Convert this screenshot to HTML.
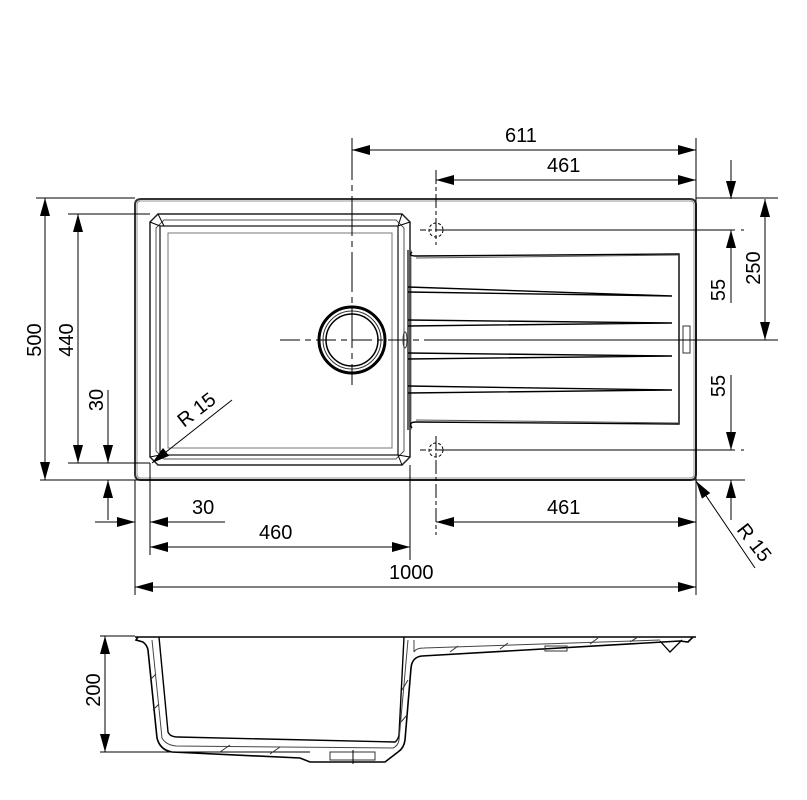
<!DOCTYPE html>
<html><head><meta charset="utf-8"><style>
html,body{margin:0;padding:0;background:#fff;}
svg{display:block;}
text{font-family:"Liberation Sans",Arial,sans-serif;font-size:20px;fill:#000;}
</style></head><body>
<svg width="807" height="800" viewBox="0 0 807 800" xmlns="http://www.w3.org/2000/svg">
<defs>
<marker id="a" viewBox="0 0 18 10" refX="18" refY="5" markerWidth="18" markerHeight="10" markerUnits="userSpaceOnUse" orient="auto-start-reverse">
<path d="M0,0 L18,5 L0,10 Z" fill="#000"/></marker>
</defs>
<g fill="none" stroke="#000" stroke-width="1">
<path d="M141,199 H690 Q696,199 696,205 V474 Q696,480 690,480 H141 Q135,480 135,474 V205 Q135,199 141,199 Z" stroke="#333" stroke-width="2"/>
<path d="M141,201 H690 Q694,201 694,205 V474 Q694,478 690,478 H141 Q137,478 137,474 V205 Q137,201 141,201 Z" stroke="#999"/>
<path d="M158,214 H402 L410,222 V457 L402,465 H158 L150,457 V222 Z" stroke="#222" stroke-width="1.5"/>
<path d="M164,220 H396 L404,228 V451 L396,459 H164 L156,451 V228 Z" stroke="#555"/>
<rect x="160" y="226" width="238" height="229" stroke="#111" stroke-width="1.2"/>
<rect x="168" y="233" width="224" height="215" stroke="#777"/>
<line x1="150" y1="222" x2="160" y2="226"/><line x1="158" y1="214" x2="164" y2="226"/>
<line x1="402" y1="214" x2="398" y2="226"/><line x1="410" y1="222" x2="398" y2="226"/>
<line x1="150" y1="457" x2="160" y2="455"/><line x1="402" y1="465" x2="398" y2="455"/><line x1="410" y1="457" x2="398" y2="455"/>
<circle cx="352" cy="340" r="33" stroke-width="3"/>
<circle cx="352" cy="340" r="29" stroke="#333"/>
<circle cx="352" cy="340" r="26" stroke-width="1.5"/>
<line x1="352" y1="140" x2="352" y2="385" stroke-dasharray="40,5,6,5"/>
<line x1="280" y1="340" x2="430" y2="340" stroke-dasharray="20,5,6,5"/>
<line x1="408" y1="250" x2="408" y2="430" stroke="#333" stroke-width="1.5"/>
<line x1="411" y1="250" x2="411" y2="430" stroke="#777"/>
<path d="M412,252 Q408,256 416,256 L679,254 V424 L416,422 Q408,422 412,428" stroke-width="1.4"/>
<path d="M416,258 L679,255" stroke="#555"/><path d="M416,420 L679,423" stroke="#555"/>
<path d="M408,287 L672,296 L408,292" stroke-width="1.4"/>
<path d="M408,320 L672,323 L408,326" stroke-width="1.4"/>
<path d="M408,353 L672,356 L408,359" stroke-width="1.4"/>
<path d="M408,386 L672,390 L408,393" stroke-width="1.4"/>
<rect x="683" y="326" width="7" height="27" stroke="#333"/>
<ellipse cx="405" cy="340" rx="2" ry="8" stroke="#333"/>
<circle cx="436" cy="230" r="7" stroke-dasharray="3,2"/>
<circle cx="436" cy="450" r="7" stroke-dasharray="3,2"/>
<line x1="436" y1="170" x2="436" y2="245" stroke-dasharray="14,3,4,3"/>
<line x1="420" y1="230" x2="745" y2="230" stroke-dasharray="6,3,3,3,300"/>
<line x1="436" y1="436" x2="436" y2="535" stroke-dasharray="14,3,4,3"/>
<line x1="420" y1="450" x2="745" y2="450" stroke-dasharray="6,3,3,3,300"/>
<line x1="352" y1="138" x2="352" y2="148"/>
<line x1="696" y1="138" x2="696" y2="595"/>
<line x1="696" y1="198" x2="778" y2="198"/>
<line x1="430" y1="340" x2="778" y2="340"/>
<line x1="40" y1="480" x2="745" y2="480"/>
<line x1="36" y1="198" x2="135" y2="198"/>
<line x1="68" y1="214" x2="150" y2="214"/>
<line x1="68" y1="463" x2="150" y2="463"/>
<line x1="135" y1="480" x2="135" y2="595"/>
<line x1="150" y1="463" x2="150" y2="555"/>
<line x1="410" y1="465" x2="410" y2="560"/>
<line x1="352" y1="150" x2="696" y2="150" marker-start="url(#a)" marker-end="url(#a)"/>
<line x1="436" y1="180" x2="696" y2="180" marker-start="url(#a)" marker-end="url(#a)"/>
<line x1="45" y1="198" x2="45" y2="480" marker-start="url(#a)" marker-end="url(#a)"/>
<line x1="78" y1="214" x2="78" y2="463" marker-start="url(#a)" marker-end="url(#a)"/>
<line x1="108" y1="390" x2="108" y2="463" marker-end="url(#a)"/>
<line x1="108" y1="520" x2="108" y2="480" marker-end="url(#a)"/>
<line x1="95" y1="522" x2="135" y2="522" marker-end="url(#a)"/>
<line x1="225" y1="522" x2="150" y2="522" marker-end="url(#a)"/>
<line x1="150" y1="547" x2="410" y2="547" marker-start="url(#a)" marker-end="url(#a)"/>
<line x1="135" y1="587" x2="696" y2="587" marker-start="url(#a)" marker-end="url(#a)"/>
<line x1="436" y1="522" x2="696" y2="522" marker-start="url(#a)" marker-end="url(#a)"/>
<line x1="731" y1="160" x2="731" y2="199" marker-end="url(#a)"/>
<line x1="731" y1="303" x2="731" y2="230" marker-end="url(#a)"/>
<line x1="731" y1="375" x2="731" y2="450" marker-end="url(#a)"/>
<line x1="731" y1="520" x2="731" y2="480" marker-end="url(#a)"/>
<line x1="765" y1="199" x2="765" y2="340" marker-start="url(#a)" marker-end="url(#a)"/>
<line x1="232" y1="400" x2="152" y2="463" marker-end="url(#a)"/>
<line x1="755" y1="568" x2="696" y2="481" marker-end="url(#a)"/>
<line x1="135" y1="637" x2="696" y2="637" stroke-width="1.5"/>
<path d="M138,637 L136,640 L143,642 Q147,645 148,650 L157,738 Q160,750 172,752 L300,758 L310,762 L385,762 L398,752 Q404,748 405,740 L411,668 Q412,657 422,656 L680,641 L688,642 L693,637" stroke-width="1.6"/>
<path d="M159,637 L168,732 Q170,737 178,737 L395,742 Q398,740 399,735 L404,637" stroke-width="1.4"/>
<path d="M152,640 L162,738 Q166,745 176,746 L393,748 Q398,746 399,740 L408,640" stroke="#444"/>
<path d="M414,640 L414,652 Q416,648 424,648 L660,640" stroke="#444"/>
<path d="M660,641 L670,652 L682,640" stroke-width="1.3"/>
<rect x="545" y="646" width="22" height="5" stroke="#333"/>
<rect x="330" y="752" width="45" height="8" stroke="#333"/>
<line x1="353" y1="750" x2="353" y2="764"/>
<line x1="100" y1="636" x2="135" y2="636"/>
<line x1="100" y1="752" x2="310" y2="752"/>
<line x1="105" y1="636" x2="105" y2="752" marker-start="url(#a)" marker-end="url(#a)"/>
<g stroke="#333"><line x1="150" y1="680" x2="156" y2="674"/><line x1="153" y1="710" x2="159" y2="704"/><line x1="408" y1="680" x2="402" y2="690"/><line x1="407" y1="715" x2="401" y2="722"/>
<line x1="220" y1="752" x2="230" y2="745"/><line x1="270" y1="754" x2="280" y2="747"/><line x1="450" y1="652" x2="458" y2="646"/><line x1="500" y1="649" x2="508" y2="643"/><line x1="590" y1="644" x2="598" y2="638"/><line x1="630" y1="642" x2="638" y2="637"/></g>
</g>
<text x="505" y="142">611</text>
<text x="547" y="172">461</text>
<text x="192" y="514">30</text>
<text x="259" y="539">460</text>
<text x="389" y="579">1000</text>
<text x="547" y="514">461</text>
<text transform="translate(41,340) rotate(-90)" text-anchor="middle">500</text>
<text transform="translate(73,340) rotate(-90)" text-anchor="middle">440</text>
<text transform="translate(103,400) rotate(-90)" text-anchor="middle">30</text>
<text transform="translate(725,290) rotate(-90)" text-anchor="middle">55</text>
<text transform="translate(725,386) rotate(-90)" text-anchor="middle">55</text>
<text transform="translate(760,268) rotate(-90)" text-anchor="middle">250</text>
<text transform="translate(100,690) rotate(-90)" text-anchor="middle">200</text>
<text transform="translate(184,428) rotate(-38)">R  15</text>
<text transform="translate(736,530) rotate(52)">R  15</text>
</svg>
</body></html>
